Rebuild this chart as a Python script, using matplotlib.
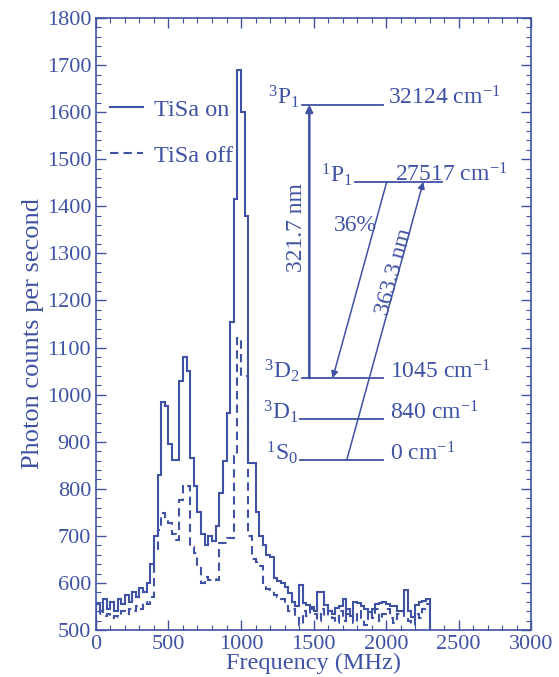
import numpy as np
import matplotlib
matplotlib.use("Agg")
import matplotlib.pyplot as plt
from matplotlib.ticker import MultipleLocator

# histogram bins, 25 MHz wide
edges = np.arange(0, 2325, 25)

tisa_on = [555, 540, 565, 545, 560, 540, 565, 555, 575, 560,
           580, 570, 590, 580, 600, 640, 700, 830, 985, 975,
           895, 862, 862, 1030, 1080, 1050, 865, 805, 750, 705,
           680, 700, 690, 720, 790, 860, 960, 1155, 1415, 1690,
           1600, 1380, 855, 855, 750, 700, 680, 660, 655, 610,
           605, 600, 592, 578, 560, 550, 595, 557, 553, 548,
           540, 580, 580, 553, 540, 535, 546, 550, 565, 535,
           530, 560, 558, 550, 545, 539, 545, 556, 558, 560,
           556, 550, 550, 540, 540, 585, 540, 528, 553, 560,
           562, 565]

tisa_off = [535, 540, 530, 535, 525, 530, 528, 540, 535, 545,
            540, 550, 545, 560, 555, 570, 670, 712, 748, 735,
            727, 705, 691, 776, 808, 805, 677, 663, 635, 600,
            613, 606, 608, 606, 684, 684, 695, 695, 870, 1120,
            1040, 1040, 700, 650, 645, 635, 600, 588, 585, 575,
            570, 565, 555, 540, 545, 530, 510, 540, 530, 545,
            535, 520, 545, 530, 540, 525, 515, 540, 520, 545,
            530, 515, 540, 525, 510, 540, 525, 545, 520, 535,
            545, 525, 515, 535, 540, 525, 520, 510, 535, 525,
            545, 555]

# energy level diagram: (label, energy text, y level, x start, x end, text x)
levels = [
    ("$^{3}$P$_{1}$", "32124 cm$^{-1}$", 1616, 1420, 1980, 2015),
    ("$^{1}$P$_{1}$", "27517 cm$^{-1}$", 1452, 1786, 2384, 2062),
    ("$^{3}$D$_{2}$", "1045 cm$^{-1}$", 1035, 1420, 1980, 2025),
    ("$^{3}$D$_{1}$", "840 cm$^{-1}$", 948, 1410, 1980, 2025),
    ("$^{1}$S$_{0}$", "0 cm$^{-1}$", 861, 1410, 1980, 2025),
]

col = "#3f52a3"
plt.rcParams["font.family"] = ["Liberation Serif", "DejaVu Serif"]
plt.rcParams["mathtext.fontset"] = "custom"
plt.rcParams["mathtext.rm"] = "Liberation Serif"
plt.rcParams["mathtext.it"] = "Liberation Serif:italic"

fig = plt.figure(figsize=(5.59, 6.77), dpi=100)
ax = fig.add_axes([0.1717, 0.0694, 0.7783, 0.904])

ax.stairs(tisa_on, edges, color=col, lw=1.5, label="TiSa on")
ax.stairs(tisa_off, edges, color=col, lw=1.5, ls=(0, (4, 2.5)), label="TiSa off")

ax.set_xlim(0, 3000)
ax.set_ylim(500, 1800)
ax.xaxis.set_major_locator(MultipleLocator(500))
ax.xaxis.set_minor_locator(MultipleLocator(100))
ax.yaxis.set_major_locator(MultipleLocator(100))
ax.yaxis.set_minor_locator(MultipleLocator(20))
ax.tick_params(which="both", direction="in", top=True, right=True,
               colors=col, labelsize=16, labelcolor=col)
ax.tick_params(which="major", length=7.5, width=1)
ax.tick_params(which="minor", length=3.5, width=0.8)
for s in ax.spines.values():
    s.set_color(col)
    s.set_linewidth(1.2)

ax.set_xlabel("Frequency (MHz)", fontsize=17.5, color=col, labelpad=-1)
ax.set_ylabel("Photon counts per second", fontsize=19, color=col, labelpad=2)
ax.yaxis.label.set_y(0.485)

leg = ax.legend(loc="upper left", bbox_to_anchor=(-0.018, 0.904), frameon=False,
                fontsize=17.5, handlelength=1.35, handletextpad=0.45, labelspacing=1.0)
for t in leg.get_texts():
    t.set_color(col)

# level lines and labels
for name, energy, y, x0, x1, tx in levels:
    ax.plot([x0, x1], [y, y], color=col, lw=1.3)
    ax.text(x0 - 15, y, name, ha="right", va="baseline", fontsize=17, color=col)
    ax.text(tx, y, energy, ha="left", va="baseline", fontsize=17, color=col)

# transitions
ax.annotate("", xy=(1471, 1616), xytext=(1471, 1035),
            arrowprops=dict(arrowstyle="-|>", color=col, lw=1.8, mutation_scale=10,
                            shrinkA=0, shrinkB=0))
ax.annotate("", xy=(1632, 1035), xytext=(2005, 1452),
            arrowprops=dict(arrowstyle="-|>", color=col, lw=1.1, mutation_scale=10,
                            shrinkA=0, shrinkB=0))
ax.annotate("", xy=(2257, 1452), xytext=(1729, 861),
            arrowprops=dict(arrowstyle="-|>", color=col, lw=1.1, mutation_scale=10,
                            shrinkA=0, shrinkB=0))

ax.text(1380, 1355, "321.7 nm", rotation=90, ha="center", va="center",
        fontsize=17, color=col)
ax.text(1790, 1360, "36%", ha="center", va="center", fontsize=17, color=col)
ax.text(2055, 1262, "363.3 nm", rotation=74.6, ha="center", va="center",
        fontsize=17, color=col)

fig.savefig("out.png", dpi=100)
